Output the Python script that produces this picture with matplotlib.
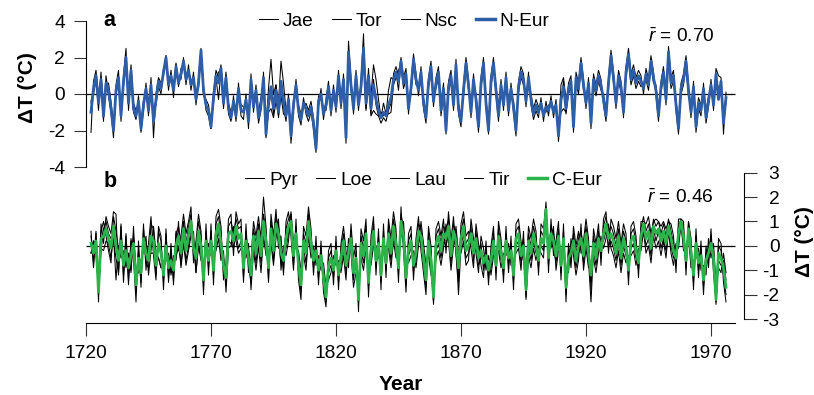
import numpy as np
import matplotlib
matplotlib.use("Agg")
import matplotlib.pyplot as plt
from matplotlib.lines import Line2D

plt.rcParams['font.family'] = ['Liberation Sans', 'DejaVu Sans']
plt.rcParams['mathtext.fontset'] = 'custom'
plt.rcParams['mathtext.rm'] = 'Liberation Sans'
plt.rcParams['mathtext.it'] = 'Liberation Sans:italic'

first_year = 1722
xticks = [1720, 1770, 1820, 1870, 1920, 1970]
yticks_a = [-4, -2, 0, 2, 4]
yticks_b = [-3, -2, -1, 0, 1, 2, 3]
labels_a = ["Jae", "Tor", "Nsc", "N-Eur"]
labels_b = ["Pyr", "Loe", "Lau", "Tir", "C-Eur"]
r_a = 0.70
r_b = 0.46

# ---------------- panel a (northern Europe) ----------------
jae = [
    -2.1, 0.7, 1.3, -0.2, 0.5, -1.5, 1.0, 0.0,
    -1.0, -2.4, 0.5, 1.3, -1.5, 1.0, 2.5, -0.9, 1.2, -1.0,
    -1.4, -0.1, -2.1, -0.9, 0.6, -1.2, 0.9, -2.4, 0.0, 0.9,
    0.6, 1.0, 2.1, 0.2, 1.3, -0.2, 1.7, 0.4, 1.4, 1.6,
    1.1, 1.0, 0.8, 0.6, 0.0, 0.3, 2.3, 0.5, -0.9, -1.2,
    -1.9, 0.1, 1.3, 0.9, 1.6, -0.2, 1.2, -1.1, -1.5, -0.1,
    -1.5, 0.6, -1.2, -1.4, 0.0, -1.9, 1.1, -1.0, 0.5, -1.6,
    -0.9, 1.2, -2.4, -0.8, 0.1, -1.1, 0.5, -1.3, 0.4, -0.7,
    -1.5, 0.0, -2.7, -0.9, 0.8, -1.2, -1.7, -0.2, -1.1, -1.5,
    -1.0, -1.9, -3.2, -0.7, 0.3, -1.4, -0.3, 0.7, -1.2, 0.5,
    -1.0, 1.3, -0.8, 1.1, -2.7, 2.9, 0.8, -1.1, 1.3, -0.9,
    0.7, 3.3, -0.8, 1.4, -1.1, 0.8, -0.6, -1.2, -1.6, -1.3,
    -1.5, -0.9, -0.5, 1.1, 1.5, 1.0, 2.0, 0.9, 1.4, -1.1,
    0.6, 2.2, 1.1, -0.1, 1.5, -0.8, -1.6, 0.9, 1.8, -0.7,
    0.9, 1.5, -1.2, 0.0, -2.2, 0.7, 1.3, -0.9, 1.9, -1.1,
    -1.8, 0.5, 2.0, 0.8, -1.3, 1.1, -0.6, -2.1, 0.9, 2.0,
    -0.8, -2.2, 1.0, 2.0, -0.1, -1.5, 0.8, -0.9, 1.2, -1.2,
    0.6, -1.0, -2.3, 0.7, 1.5, 1.1, -0.7, 1.2, -0.6, -1.4,
    -0.9, -1.3, -0.2, -1.5, -0.4, -1.2, -0.1, -1.3, -0.3, -2.6,
    -0.6, 0.7, -1.1, 0.6, 1.0, -2.1, 1.2, 0.6, 2.0, 0.8,
    -0.8, 0.9, -1.9, 1.1, 0.5, 1.3, 0.8, -0.6, -1.5, 0.9,
    2.4, 1.2, -0.8, 1.3, 0.7, -1.3, 1.5, 2.5, 1.1, 1.6,
    0.9, 1.3, 1.0, 0.0, 1.4, 0.8, 2.1, 1.2, -0.1, -1.5,
    0.7, 1.5, -0.6, 2.6, 0.9, 1.3, -0.9, -2.2, 0.6, 1.1,
    2.1, 0.5, -1.3, 0.7, -2.1, -0.8, -1.2, 0.6, -1.6, -0.7,
    0.8, -0.9, 1.4, 1.0, 0.9, -2.2, 0.1,
]
tor = [
    -0.5, 0.0, 0.8, -0.9, 1.2, -0.8, 0.4, 0.6,
    -0.4, -1.7, 0.0, 0.6, -0.9, 0.4, 1.7, -0.2, 1.6, -0.5,
    -0.9, -0.7, -1.6, -0.3, 0.1, -0.6, 0.2, -1.0, -0.6, 0.4,
    0.0, 1.4, 1.8, 0.8, 0.7, 0.5, 1.2, 0.9, 0.8, 2.0,
    0.5, 1.6, 0.2, 1.2, -0.6, 0.9, 2.5, -0.1, -0.3, -0.6,
    -1.6, -0.5, 0.8, 1.2, 1.3, -0.8, 0.6, -0.5, -1.0, -0.7,
    -0.9, 0.0, -0.6, -0.7, -0.6, -1.1, 0.5, -0.4, -0.1, -1.0,
    -0.2, 0.6, -1.9, 0.3, 1.9, 0.0, 0.5, -0.5, 1.8, 0.6,
    -0.9, -0.6, -2.0, -0.3, 0.2, -0.6, -1.1, -0.8, -0.5, -0.9,
    -0.4, -1.3, -2.8, -0.1, -0.3, -0.8, -0.9, 0.1, -0.6, -0.1,
    -0.4, 0.7, -0.2, 0.5, -2.1, 1.8, 0.2, -0.5, 0.7, -0.3,
    0.1, 2.0, -0.9, 0.6, -1.2, -0.9, -1.1, -1.2, -1.0, -1.2,
    -1.0, -1.1, -1.0, 0.5, 0.9, 1.3, 1.6, 0.3, 0.8, -0.5,
    0.0, 1.6, 0.5, 0.5, 0.9, -0.2, -1.0, 0.3, 1.2, -0.1,
    0.3, 0.9, -0.6, 0.6, -1.8, 0.1, 0.7, -0.3, 1.3, -0.5,
    -1.2, -0.1, 1.4, 0.2, -0.7, 0.5, 0.0, -1.5, 0.3, 1.4,
    -0.2, -1.8, 0.4, 1.4, 0.5, -0.9, 0.2, -0.3, 0.6, -0.6,
    0.0, -0.4, -1.7, 0.1, 0.9, 0.5, -0.1, 0.6, 0.0, -0.8,
    -0.3, -0.7, -0.8, -0.9, -1.0, -0.6, -0.7, -0.7, -0.9, -2.0,
    -1.0, -0.8, -1.0, 0.0, 0.4, -1.5, 0.6, 0.0, 1.4, 0.2,
    -0.2, 0.3, -1.3, 0.5, -0.1, 0.7, 0.2, 0.0, -0.9, 0.3,
    1.8, 0.6, -0.2, 0.7, 0.1, -0.7, 0.9, 1.9, 0.5, 1.0,
    0.3, 0.7, 0.4, 0.6, 0.8, 0.2, 1.5, 0.6, 0.5, -0.9,
    0.1, 0.9, 0.0, 2.0, 0.3, 0.7, -0.3, -1.6, 0.0, 0.5,
    1.5, -0.1, -0.7, 0.1, -1.5, -0.2, -0.6, 0.0, -1.0, -0.1,
    0.2, -0.3, 0.8, 0.3, 0.4, -1.3, -0.5,
]
nsc = [
    -0.4, 0.2, 0.9, -0.4, 0.7, -1.3, 0.4, 0.0,
    -1.0, -1.9, 0.1, 0.8, -1.2, 0.7, 1.8, -0.4, 1.1, -0.9,
    -1.3, -0.4, -2.0, -0.6, 0.2, -0.9, 0.4, -1.1, -0.3, 0.8,
    0.3, 1.2, 2.1, 0.5, 1.0, 0.3, 1.6, 0.5, 1.1, 1.8,
    0.8, 1.3, 0.5, 0.9, -0.3, 0.6, 2.4, 0.2, -0.6, -0.9,
    -1.9, -0.2, 0.9, -0.3, 1.3, -0.5, 1.0, -0.8, -1.4, -0.4,
    -1.2, 0.3, -0.9, -0.9, -0.3, -1.5, 0.8, -0.7, 0.2, -1.3,
    -0.7, 0.9, -2.3, -1.0, -0.8, -1.3, -0.4, -1.2, -0.1, -1.1,
    -1.2, -0.3, -2.2, -0.6, 0.5, -0.9, -1.4, -0.5, -0.8, -1.2,
    -0.7, -1.6, -3.0, -0.4, 0.0, -1.1, -0.6, 0.4, -0.9, 0.2,
    -0.7, 1.0, -0.5, 0.8, -2.4, 2.3, 0.5, -0.8, 1.0, -0.6,
    0.4, 2.2, 0.2, 1.0, -0.1, 1.6, 0.8, -0.3, -1.3, -0.5,
    -1.1, 0.2, 0.9, 0.8, 1.2, 0.2, 1.8, 0.6, 1.1, -0.8,
    0.3, 1.9, 0.8, 0.2, 1.2, -0.5, -1.3, 0.6, 1.5, -0.4,
    0.6, 1.2, -0.9, 0.3, -2.0, 0.4, 1.0, -0.6, 1.6, -0.8,
    -1.5, 0.2, 1.7, 0.5, -1.0, 0.8, -0.3, -1.8, 0.6, 1.7,
    -0.5, -2.0, 0.7, 1.7, 0.2, -1.2, 0.5, -0.6, 0.9, -0.9,
    0.3, -0.7, -2.0, 0.4, 1.2, 0.8, -0.4, 0.9, -0.3, -1.1,
    -0.6, -1.0, -0.5, -1.2, -0.7, -0.9, -0.4, -1.0, -0.6, -2.3,
    0.5, 0.9, -0.3, 0.3, 0.7, -1.8, 0.9, 0.3, 1.7, 0.5,
    -0.5, 0.6, -1.6, 0.8, 0.2, 1.0, 0.5, -0.3, -1.2, 0.6,
    2.1, 0.9, -0.5, 1.0, 0.4, -1.0, 1.2, 2.2, 0.8, 1.3,
    0.6, 1.0, 0.7, 0.3, 1.1, 0.5, 1.8, 0.9, 0.2, -1.2,
    0.4, 1.2, -0.3, 2.3, 0.6, 1.0, -0.6, -1.9, 0.3, 0.8,
    1.8, 0.2, -1.0, 0.4, -1.8, -0.5, -0.9, 0.3, -1.3, -0.4,
    0.5, -0.6, 1.1, -0.3, 0.7, -1.6, -0.2,
]
n_eur = [
    -1.0, 0.3, 1.0, -0.5, 0.8, -1.2, 0.6, 0.2,
    -0.8, -2.0, 0.2, 0.9, -1.2, 0.7, 2.0, -0.5, 1.3, -0.8,
    -1.2, -0.4, -1.9, -0.6, 0.3, -0.9, 0.5, -1.5, -0.3, 0.7,
    0.3, 1.2, 2.0, 0.5, 1.0, 0.2, 1.5, 0.6, 1.1, 1.8,
    0.8, 1.3, 0.5, 0.9, -0.3, 0.6, 2.4, 0.2, -0.6, -0.9,
    -1.8, -0.2, 1.0, 0.6, 1.4, -0.5, 0.9, -0.8, -1.3, -0.4,
    -1.2, 0.3, -0.9, -1.0, -0.3, -1.5, 0.8, -0.7, 0.2, -1.3,
    -0.6, 0.9, -2.2, -0.5, 0.4, -0.8, 0.2, -1.0, 0.7, -0.4,
    -1.2, -0.3, -2.3, -0.6, 0.5, -0.9, -1.4, -0.5, -0.8, -1.2,
    -0.7, -1.6, -3.0, -0.4, 0.0, -1.1, -0.6, 0.4, -0.9, 0.2,
    -0.7, 1.0, -0.5, 0.8, -2.4, 2.3, 0.5, -0.8, 1.0, -0.6,
    0.4, 2.5, -0.5, 1.0, -0.8, 0.5, -0.3, -0.9, -1.3, -1.0,
    -1.2, -0.6, -0.2, 0.8, 1.2, 0.7, 1.8, 0.6, 1.1, -0.8,
    0.3, 1.9, 0.8, 0.2, 1.2, -0.5, -1.3, 0.6, 1.5, -0.4,
    0.6, 1.2, -0.9, 0.3, -2.0, 0.4, 1.0, -0.6, 1.6, -0.8,
    -1.5, 0.2, 1.7, 0.5, -1.0, 0.8, -0.3, -1.8, 0.6, 1.7,
    -0.5, -2.0, 0.7, 1.7, 0.2, -1.2, 0.5, -0.6, 0.9, -0.9,
    0.3, -0.7, -2.0, 0.4, 1.2, 0.8, -0.4, 0.9, -0.3, -1.1,
    -0.6, -1.0, -0.5, -1.2, -0.7, -0.9, -0.4, -1.0, -0.6, -2.3,
    -0.3, 0.4, -0.8, 0.3, 0.7, -1.8, 0.9, 0.3, 1.7, 0.5,
    -0.5, 0.6, -1.6, 0.8, 0.2, 1.0, 0.5, -0.3, -1.2, 0.6,
    2.1, 0.9, -0.5, 1.0, 0.4, -1.0, 1.2, 2.2, 0.8, 1.3,
    0.6, 1.0, 0.7, 0.3, 1.1, 0.5, 1.8, 0.9, 0.2, -1.2,
    0.4, 1.2, -0.3, 2.3, 0.6, 1.0, -0.6, -1.9, 0.3, 0.8,
    1.8, 0.2, -1.0, 0.4, -1.8, -0.5, -0.9, 0.3, -1.3, -0.4,
    0.5, -0.6, 1.1, -0.3, 0.7, -1.6, -0.2,
]

# ---------------- panel b (central Europe) ----------------
pyr = [
    0.6, -0.9, 0.5, -2.3, 0.9, 0.1, 1.2, 0.8,
    0.5, 1.4, 1.3, -1.2, 0.8, -1.5, 0.4, -1.6, 0.3, -0.5,
    -2.3, 0.2, -1.7, 0.9, -1.0, 0.1, 1.2, -0.4, -1.4, 0.8,
    0.4, -1.8, 0.7, -1.5, 0.1, -1.6, 0.6, -0.2, 0.4, 1.3,
    0.5, 1.0, 1.6, -0.7, 0.2, 1.3, 0.6, -2.0, 0.9, -1.2,
    0.9, -1.6, 1.2, 1.5, 0.8, -1.4, -0.7, 1.1, 1.3, -0.4,
    1.4, 0.9, 1.1, -1.5, 0.9, -1.1, -0.6, 1.0, 0.4, 1.2,
    0.3, 2.0, 0.8, -1.5, 1.3, 0.4, 1.5, -0.1, 0.4, -1.2,
    1.0, 1.4, 0.4, -1.0, 1.1, -1.4, -2.2, 0.8, 0.4, 1.6,
    0.7, -1.2, 0.4, -1.6, 0.2, -1.9, -2.5, -0.2, 0.1, -1.6,
    0.4, -1.8, 0.1, 0.8, -0.2, -0.9, 0.9, -0.5, 0.1, -2.7,
    0.7, 0.2, 1.1, -2.1, 0.4, 1.2, -1.2, 0.7, -1.8, 0.9,
    -1.3, 1.1, 0.3, 1.4, 0.7, -1.5, 1.6, -0.2, -1.9, 0.5,
    0.8, -1.4, 0.3, 1.2, -0.2, -1.1, -2.0, 0.8, 0.0, -2.4,
    0.7, 1.0, 0.4, 1.1, -0.3, 1.4, 0.2, 1.2, -0.4, -1.5,
    0.9, 1.4, 0.4, 0.6, -0.1, -0.9, 0.9, 0.1, -0.8, -1.3,
    0.2, -1.6, 0.0, 0.8, -1.4, 1.0, 0.3, -1.5, 0.8, -1.1,
    0.4, -1.8, 0.9, 1.1, 0.2, -0.6, -1.2, 0.8, 0.3, 1.1,
    0.6, -1.2, 0.9, 0.7, 1.8, -1.1, 1.1, -0.4, 0.2, 1.0,
    -1.4, 0.9, -2.3, 0.1, -0.9, 0.8, 0.0, 0.6, -0.3, 0.2,
    1.1, 0.3, -1.8, 0.7, 0.1, 0.9, -0.8, 1.1, 1.4, -0.3,
    1.1, 0.8, 0.3, 1.0, 0.1, 0.9, 0.5, -1.6, 0.8, 1.0,
    0.4, -1.3, 1.0, 1.0, 0.9, 1.2, 0.5, 1.0, 1.1, 1.0,
    0.8, 1.0, 0.7, 1.0, 0.9, 0.4, -1.1, 1.1, 1.1, 1.0,
    -1.2, 1.0, 0.3, -1.8, 0.7, -1.3, 0.2, -2.0, 0.0, -0.9,
    0.7, -1.1, -2.3, 0.3, 0.1, -1.5, -2.3,
]
loe = [
    -0.3, 0.2, -0.4, -1.5, 0.6, 1.0, 0.4, -0.2,
    -0.7, 1.2, 0.6, -0.1, -0.4, -0.2, -0.9, -0.3, -1.1, 0.8,
    -1.2, -1.1, -0.6, -0.2, 0.4, -1.2, -0.2, 0.8, -0.3, -0.5,
    -0.9, -0.6, -0.6, -0.3, -1.2, -0.4, -0.6, 1.0, -0.9, 0.1,
    -0.8, -0.2, 0.4, 0.6, -1.1, 0.0, -0.6, -0.8, -0.4, 0.1,
    -0.4, -0.4, -0.2, 0.3, -0.6, -0.2, -1.9, -0.1, 0.0, 0.8,
    0.2, -0.3, -0.1, -0.3, -0.5, 0.1, -1.8, -0.2, -1.0, 0.0,
    -1.1, 0.4, -0.4, -0.3, 0.1, -0.8, 0.3, 1.1, -1.0, 0.0,
    -0.4, 0.2, 1.4, 0.2, -0.1, -0.2, -1.0, -0.4, -1.0, 0.4,
    -0.5, 0.0, -0.8, -0.4, -1.0, -0.7, -1.7, -1.4, -1.1, -0.4,
    -0.8, -0.6, -1.1, -0.4, -1.4, 0.3, -0.3, -1.7, -1.1, -1.6,
    -0.5, -1.0, -0.1, -0.9, -0.8, 0.0, 0.0, -0.5, -0.6, -0.3,
    -0.1, -0.1, -0.9, 0.2, -0.5, -0.3, 0.4, 1.0, -0.7, -0.7,
    -0.4, -0.2, -0.9, 0.0, 1.0, 0.1, -0.8, -0.4, -1.2, -1.5,
    -0.5, -0.2, -0.8, -0.1, 0.9, 0.2, -1.0, 0.0, 0.8, -0.3,
    -0.3, 0.2, -0.8, -0.6, 1.1, 0.3, -0.3, -1.1, 0.4, -0.1,
    -1.0, -0.4, -1.2, -0.4, -0.2, -0.2, -0.9, -0.3, -0.4, 0.1,
    -0.8, -0.6, -0.3, -0.1, -1.0, 0.6, -2.2, -0.4, -0.9, -0.1,
    -0.6, 0.0, -0.3, -0.5, 1.2, 0.1, -0.1, 0.8, -1.0, -0.2,
    -0.2, -0.3, -1.1, -1.1, 0.3, -0.4, -1.2, -0.6, 0.9, -1.0,
    -0.1, -0.9, -0.6, -0.5, -1.1, -0.3, 0.4, -0.1, 0.3, 0.9,
    -0.1, -0.4, -0.9, -0.2, -1.1, -0.3, -0.7, -0.4, -0.4, -0.2,
    -0.8, -0.1, -0.2, 0.6, -0.3, 0.0, -0.7, 0.4, -0.1, 0.2,
    -0.4, 0.2, -0.5, 0.6, -0.3, -0.8, 0.1, -0.1, 0.9, -0.2,
    0.0, 0.4, -0.9, -0.6, -0.5, -0.1, -1.0, -0.8, -1.2, 0.3,
    -0.5, 0.1, -1.6, -0.9, -1.1, -0.3, -1.1,
]
lau = [
    0.4, -0.7, 0.6, -1.8, -0.2, 0.7, 1.0, 0.5,
    0.3, 0.2, -0.5, -1.1, 0.9, -1.2, 0.5, -1.4, 0.2, -0.3,
    -1.9, -0.2, -1.5, 0.7, -0.7, -0.9, 0.9, 0.7, -1.2, 0.6,
    0.2, -1.5, 0.5, -1.3, -0.2, -1.4, 0.5, 0.8, 0.1, 1.0,
    0.1, 0.8, 1.3, -0.4, -0.1, 1.0, 0.4, -1.7, 0.6, -0.9,
    0.6, -1.3, 0.9, 1.2, 0.5, -1.1, -1.0, 0.8, 1.0, 0.5,
    1.1, 0.7, 0.8, -1.3, 0.6, -0.8, -1.5, 0.7, 0.1, 0.9,
    -0.1, 1.3, 0.6, -1.4, 1.0, 0.2, 1.2, 0.8, 0.1, -1.0,
    0.7, 1.1, 1.3, -0.8, 0.8, -1.1, -1.9, 0.5, 0.1, 1.3,
    0.4, -0.9, 0.1, -1.3, -0.1, -1.6, -2.3, -0.5, -0.2, -1.3,
    0.1, -1.5, -0.2, 0.5, -0.5, -0.6, 0.6, -1.4, -0.2, -2.4,
    0.4, -0.1, 0.8, -1.8, 0.1, 0.9, -0.9, 0.4, -1.5, 0.6,
    -1.0, 0.8, 0.0, 1.1, 0.4, -1.2, 1.3, 0.7, -1.6, 0.2,
    0.5, -1.1, 0.0, 0.9, 0.7, -0.8, -1.7, 0.5, -0.3, -2.2,
    0.4, 0.7, 0.1, 0.8, 0.6, 1.1, -0.1, 0.9, 0.5, -1.2,
    0.6, 1.1, 0.1, 0.3, 0.8, -0.6, 0.6, -0.2, 0.1, -1.0,
    -0.1, -1.3, -0.3, 0.5, -1.1, 0.7, 0.0, -1.2, 0.5, -0.8,
    0.1, -1.5, 0.6, 0.8, -0.1, 0.3, -1.5, 0.5, 0.0, 0.8,
    0.3, -0.9, 0.6, 0.4, 1.6, -0.8, 0.8, 0.5, -0.1, 0.7,
    -1.1, 0.6, -2.0, -0.2, -0.6, 0.5, -0.3, 0.3, 0.6, -0.1,
    0.8, 0.0, -1.5, 0.4, -0.2, 0.6, -0.5, 0.8, 1.2, 0.6,
    0.8, 0.5, 0.0, 0.7, -0.2, 0.6, 0.2, -1.3, 0.5, 0.7,
    0.1, -1.0, 0.7, 1.2, 0.6, 0.9, 0.2, 1.1, 0.8, 1.0,
    0.5, 0.9, 0.4, 1.1, 0.6, 0.1, -0.8, 0.8, 1.1, 0.7,
    -0.9, 1.0, 0.0, -1.5, 0.4, -1.0, -0.1, -1.7, -0.3, -0.6,
    0.4, -0.8, -2.0, 0.0, -0.2, -1.2, -2.0,
]
tir = [
    -0.3, 0.2, 0.1, -2.0, -0.1, -0.2, 0.2, 0.1,
    -0.5, 0.4, -1.4, 0.0, -0.5, -0.3, -0.8, -0.3, -1.0, 0.4,
    -1.0, -0.9, -0.6, -0.2, 0.1, -0.4, -0.3, -0.3, -0.3, -0.5,
    -0.9, -0.9, -0.6, -0.5, -1.1, -0.6, -0.5, 0.0, -0.8, 0.4,
    -0.6, 0.0, 0.7, 0.1, -1.1, 0.1, -0.4, -1.1, -0.3, -0.4,
    -0.3, -0.7, 0.1, 0.6, -0.3, -0.5, -1.6, 0.2, 0.1, -0.1,
    0.5, -0.1, 0.2, -0.5, -0.2, -0.2, -0.9, 0.1, -0.7, 0.3,
    -0.7, 0.3, -0.2, -0.4, 0.4, -0.6, 0.6, 0.2, -0.7, -0.2,
    -0.1, 0.5, 0.9, 0.0, 0.2, -0.5, -1.3, -0.1, -0.7, 0.7,
    -0.2, -0.3, -0.5, -0.7, -0.7, -1.0, -1.9, -1.1, -0.8, -0.7,
    -0.5, -0.9, -0.8, -0.1, -1.1, 0.0, 0.0, -0.8, -0.8, -2.1,
    -0.2, -0.7, 0.2, -1.2, -0.5, 0.3, -0.3, -0.2, -0.9, 0.0,
    -0.4, 0.2, -0.6, 0.5, -0.2, -0.6, 0.7, 0.1, -1.0, -0.4,
    -0.1, -0.5, -0.6, 0.3, 0.1, -0.2, -1.1, -0.1, -0.9, -2.3,
    -0.2, 0.1, -0.5, 0.2, 0.0, 0.5, -0.7, 0.3, -0.1, -2.0,
    0.0, 0.5, -0.5, -0.3, 0.2, 0.0, 0.0, -0.8, -0.5, -0.4,
    -0.7, -0.7, -0.9, -0.1, -0.5, 0.1, -0.6, -0.6, -0.1, -0.2,
    -0.5, -0.9, 0.0, 0.2, -0.7, -0.3, -2.1, -0.1, -0.6, 0.2,
    -0.3, -0.3, 0.0, -0.2, 1.4, -0.2, 0.2, -0.1, -0.7, 0.1,
    -0.5, 0.0, -1.4, -0.8, 0.0, -0.1, -0.9, -0.3, 0.0, -0.7,
    0.2, -0.6, -2.3, -0.2, -0.8, 0.0, 0.1, 0.2, 0.6, 0.0,
    0.2, -0.1, -0.6, 0.1, -0.8, 0.0, -0.4, -0.7, -0.1, 0.1,
    -0.5, -0.4, 0.1, 0.8, 0.0, 0.3, -0.4, 0.7, 0.2, 0.6,
    -0.1, 0.3, -0.2, 0.5, 0.0, -0.5, -0.2, 0.2, 0.9, 0.1,
    -0.3, 0.4, -0.6, -0.9, -0.2, -0.4, -0.7, -1.1, -0.9, 0.0,
    -0.2, -0.2, -2.4, -0.6, -0.8, -0.6, -1.4,
]
c_eur = [
    0.1, -0.3, 0.2, -1.9, 0.3, 0.4, 0.7, 0.3,
    -0.1, 0.8, 0.0, -0.6, 0.2, -0.8, -0.2, -0.9, -0.4, 0.1,
    -1.6, -0.5, -1.1, 0.3, -0.3, -0.6, 0.4, 0.2, -0.8, 0.1,
    -0.3, -1.2, 0.0, -0.9, -0.6, -1.0, 0.0, 0.4, -0.3, 0.7,
    -0.2, 0.4, 1.0, -0.1, -0.5, 0.6, 0.0, -1.4, 0.2, -0.6,
    0.2, -1.0, 0.5, 0.9, 0.1, -0.8, -1.3, 0.5, 0.6, 0.2,
    0.8, 0.3, 0.5, -0.9, 0.2, -0.5, -1.2, 0.4, -0.3, 0.6,
    -0.4, 1.0, 0.2, -0.9, 0.7, -0.2, 0.9, 0.5, -0.3, -0.6,
    0.3, 0.8, 1.0, -0.4, 0.5, -0.8, -1.6, 0.2, -0.3, 1.0,
    0.1, -0.6, -0.2, -1.0, -0.4, -1.3, -2.1, -0.8, -0.5, -1.0,
    -0.2, -1.2, -0.5, 0.2, -0.8, -0.3, 0.3, -1.1, -0.5, -2.2,
    0.1, -0.4, 0.5, -1.5, -0.2, 0.6, -0.6, 0.1, -1.2, 0.3,
    -0.7, 0.5, -0.3, 0.8, 0.1, -0.9, 1.0, 0.4, -1.3, -0.1,
    0.2, -0.8, -0.3, 0.6, 0.4, -0.5, -1.4, 0.2, -0.6, -2.1,
    0.1, 0.4, -0.2, 0.5, 0.3, 0.8, -0.4, 0.6, 0.2, -0.9,
    0.3, 0.8, -0.2, 0.0, 0.5, -0.3, 0.3, -0.5, -0.2, -0.7,
    -0.4, -1.0, -0.6, 0.2, -0.8, 0.4, -0.3, -0.9, 0.2, -0.5,
    -0.2, -1.2, 0.3, 0.5, -0.4, 0.0, -1.8, 0.2, -0.3, 0.5,
    0.0, -0.6, 0.3, 0.1, 1.5, -0.5, 0.5, 0.2, -0.4, 0.4,
    -0.8, 0.3, -1.7, -0.5, -0.3, 0.2, -0.6, 0.0, 0.3, -0.4,
    0.5, -0.3, -1.2, 0.1, -0.5, 0.3, -0.2, 0.5, 0.9, 0.3,
    0.5, 0.2, -0.3, 0.4, -0.5, 0.3, -0.1, -1.0, 0.2, 0.4,
    -0.2, -0.7, 0.4, 0.9, 0.3, 0.6, -0.1, 0.8, 0.5, 0.7,
    0.2, 0.6, 0.1, 0.8, 0.3, -0.2, -0.5, 0.5, 1.0, 0.4,
    -0.6, 0.7, -0.3, -1.2, 0.1, -0.7, -0.4, -1.4, -0.6, -0.3,
    0.1, -0.5, -2.2, -0.3, -0.5, -0.9, -1.7,
]

# ---------------- layout (pixel based) ----------------
W, H = 814, 395
FS = 13.8
BLUE = "#2F5EA9"
GREEN = "#2DB34B"
X0 = 1720
PX_PER_YEAR = 2.5
x_right = X0 + (744 - 86) / PX_PER_YEAR
x_axis_end = X0 + (735 - 86) / PX_PER_YEAR
TICK_COL = "#333333"


def years_for(series):
    return np.arange(first_year, first_year + len(series))


fig = plt.figure(figsize=(W / 100, H / 100), dpi=100)
fig.patch.set_facecolor("white")

ax_a = fig.add_axes([86 / W, 1 - 167 / H, (744 - 86) / W, 146 / H])
yb_top, yb_bot = 172.7, 323.0
ax_b = fig.add_axes([86 / W, 1 - yb_bot / H, (744 - 86) / W, (yb_bot - yb_top) / H])

black_lw = 0.75
col_lw = 2.0

# panel a
for s in (jae, tor, nsc):
    ax_a.plot(years_for(s), s, color="black", lw=black_lw, zorder=2)
ax_a.plot(years_for(n_eur), n_eur, color=BLUE, lw=col_lw, zorder=3)
ax_a.hlines(0, X0, x_axis_end, color="black", lw=0.9, zorder=1)
ax_a.set_xlim(X0, x_right)
ax_a.set_ylim(-4, 4)
for sp in ("top", "right", "bottom"):
    ax_a.spines[sp].set_visible(False)
ax_a.spines["left"].set_bounds(-4, 4)
ax_a.spines["left"].set_linewidth(0.8)
ax_a.set_xticks([])
ax_a.set_yticks(yticks_a)
ax_a.set_yticklabels([str(v) for v in yticks_a])
ax_a.tick_params(axis="y", direction="out", length=9, width=0.8, pad=6, labelsize=FS,
                 color=TICK_COL)
ax_a.patch.set_alpha(0)

# panel b
for s in (pyr, loe, lau, tir):
    ax_b.plot(years_for(s), s, color="black", lw=black_lw, zorder=2)
ax_b.plot(years_for(c_eur), c_eur, color=GREEN, lw=col_lw, zorder=3)
ax_b.hlines(0, X0, x_axis_end, color="black", lw=0.9, zorder=1)
ax_b.set_xlim(X0, x_right)
ax_b.set_ylim(-3 - (yb_bot - 319.0) / 24.39, 3)
for sp in ("top", "left"):
    ax_b.spines[sp].set_visible(False)
ax_b.spines["right"].set_bounds(-3, 3)
ax_b.spines["bottom"].set_bounds(X0, x_axis_end)
ax_b.spines["right"].set_linewidth(0.8)
ax_b.spines["bottom"].set_linewidth(0.8)
ax_b.yaxis.tick_right()
ax_b.set_yticks(yticks_b)
ax_b.set_yticklabels([str(v) for v in yticks_b])
ax_b.tick_params(axis="y", direction="out", length=9, width=0.8, pad=16.5, labelsize=FS,
                 color=TICK_COL)
for lab in ax_b.get_yticklabels():
    lab.set_horizontalalignment("right")
ax_b.set_xticks(xticks)
ax_b.set_xticklabels([str(v) for v in xticks])
ax_b.tick_params(axis="x", direction="out", length=9, width=0.8, pad=7, labelsize=FS,
                 color=TICK_COL)
ax_b.patch.set_alpha(0)

# legends
h_a = [Line2D([], [], color="black", lw=black_lw)] * 3 + [Line2D([], [], color=BLUE, lw=col_lw + 0.5)]
leg_a = ax_a.legend(h_a, labels_a, loc="center left", bbox_to_anchor=(259 / W, 1 - 21 / H),
                    bbox_transform=fig.transFigure, ncol=4, frameon=False, fontsize=FS,
                    handlelength=1.0, handletextpad=0.26, columnspacing=0.94,
                    borderpad=0, borderaxespad=0)
h_b = [Line2D([], [], color="black", lw=black_lw)] * 4 + [Line2D([], [], color=GREEN, lw=col_lw + 0.5)]
leg_b = ax_b.legend(h_b, labels_b, loc="center left", bbox_to_anchor=(245 / W, 1 - 180 / H),
                    bbox_transform=fig.transFigure, ncol=5, frameon=False, fontsize=FS,
                    handlelength=1.0, handletextpad=0.26, columnspacing=0.94,
                    borderpad=0, borderaxespad=0)

# panel letters and r-bar annotations
fig.text(103 / W, 1 - 26 / H, "a", fontsize=15.5, fontweight="bold", ha="left", va="baseline")
fig.text(104 / W, 1 - 187.3 / H, "b", fontsize=15.5, fontweight="bold", ha="left", va="baseline")
fig.text(648 / W, 1 - 41.7 / H, r"$\bar{r}$ = " + f"{r_a:.2f}", fontsize=FS, ha="left", va="baseline")
fig.text(647 / W, 1 - 203.3 / H, r"$\bar{r}$ = " + f"{r_b:.2f}", fontsize=FS, ha="left", va="baseline")

# axis labels
fig.text(27.5 / W, 1 - 88 / H, "ΔT (°C)", fontsize=15, fontweight="bold", rotation=90,
         ha="center", va="center")
fig.text(805 / W, 1 - 242 / H, "ΔT (°C)", fontsize=15, fontweight="bold", rotation=90,
         ha="center", va="center")
fig.text(401 / W, 1 - 390 / H, "Year", fontsize=15, fontweight="bold", ha="center", va="baseline")

fig.savefig("out.png", dpi=100, facecolor="white")
